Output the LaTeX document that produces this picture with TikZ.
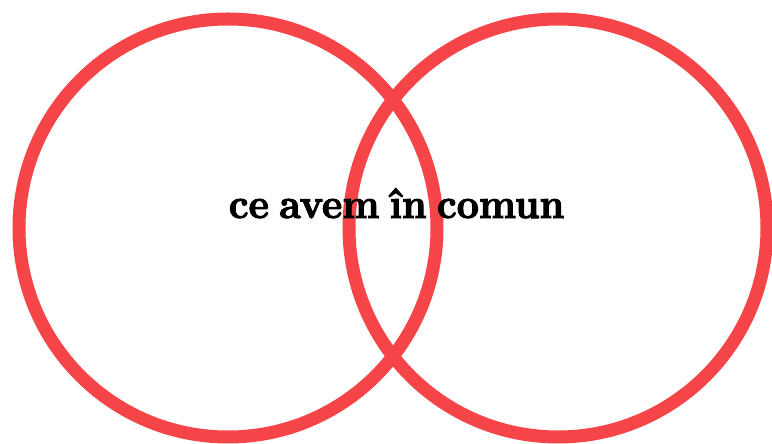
\documentclass[tikz,border=0pt]{standalone}
\usepackage{xcolor}
\usepackage{fontspec}
\usepackage{tikz}
\usetikzlibrary{positioning}
\definecolor{ringred}{HTML}{F64548}
\newfontfamily\fatfont{lmroman10-bold.otf}[FakeBold=2.4, FakeStretch=0.92, WordSpace=0.7]

\begin{document}
\begin{tikzpicture}[
    x=1pt, y=1pt,
    ring/.style={draw=ringred, line width=13pt, circle, inner sep=0pt, minimum size=418pt},
    label/.style={anchor=base, inner sep=0pt, font=\fatfont\fontsize{42}{45}\selectfont}
]
\useasboundingbox (0,0) rectangle (772,444);
\node[ring] (left) at (228,216) {};
\node[ring] (right) at (558,216) {};
\node[label] (common) at (396.5,226) {ce avem în comun};
\end{tikzpicture}
\end{document}
